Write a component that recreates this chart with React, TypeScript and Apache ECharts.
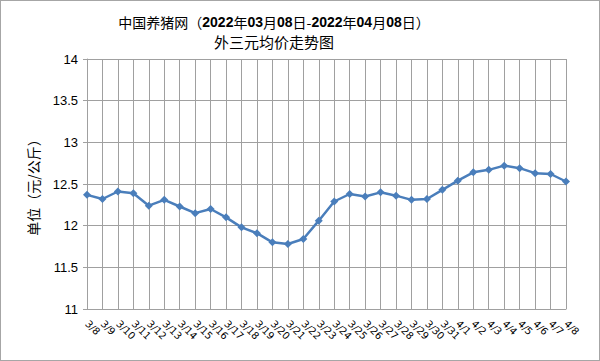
import React, { useEffect, useRef } from "react";
import * as echarts from "echarts";

const categories = [
  "3/8", "3/9", "3/10", "3/11", "3/12", "3/13", "3/14", "3/15", "3/16", "3/17",
  "3/18", "3/19", "3/20", "3/21", "3/22", "3/23", "3/24", "3/25", "3/26", "3/27",
  "3/28", "3/29", "3/30", "3/31", "4/1", "4/2", "4/3", "4/4", "4/5", "4/6", "4/7", "4/8",
];
const prices = [
  12.37, 12.32, 12.41, 12.39, 12.24, 12.31, 12.23, 12.15, 12.2, 12.1,
  11.98, 11.91, 11.8, 11.78, 11.84, 12.06, 12.29, 12.38, 12.35, 12.4,
  12.36, 12.31, 12.32, 12.43, 12.54, 12.64, 12.67, 12.72, 12.69, 12.63, 12.62, 12.53,
];
const titleLine1 = ["中国养猪网（", "2022", "年", "03", "月", "08", "日-", "2022", "年", "04", "月", "08", "日）"];
const titleLine2 = "外三元均价走势图";
const yAxisName = "单位（元/公斤）";

export default function App() {
  const ref = useRef<HTMLDivElement>(null);
  useEffect(() => {
    if (!ref.current) return;
    const chart = echarts.init(ref.current, null, { renderer: "svg" });
    const cjk = '"Noto Sans CJK SC", sans-serif';
    const richText = titleLine1
      .map((s) => (/^\d+$/.test(s) ? `{b|${s}}` : `{n|${s}}`))
      .join("");
    chart.setOption({
      animation: false,
      backgroundColor: "#ffffff",
      grid: { left: 86, right: 33, top: 58, bottom: 51 },
      graphic: [
        {
          type: "text",
          x: 273,
          y: 21,
          style: {
            text: richText,
            align: "center",
            verticalAlign: "middle",
            rich: {
              n: { fontFamily: cjk, fontSize: 14, fill: "#000" },
              b: { fontFamily: '"Liberation Sans", sans-serif', fontWeight: "bold", fontSize: 14, fill: "#000" },
            },
          },
        },
        {
          type: "text",
          x: 273,
          y: 40,
          style: {
            text: titleLine2,
            align: "center",
            verticalAlign: "middle",
            fontFamily: cjk,
            fontSize: 15,
            fill: "#000",
          },
        },
      ],
      xAxis: {
        type: "category",
        data: categories,
        boundaryGap: false,
        axisLine: { lineStyle: { color: "#a0a0a0", width: 1 } },
        axisTick: { show: false },
        splitLine: { show: true, lineStyle: { color: "#a0a0a0", width: 1 } },
        axisLabel: {
          interval: 0,
          rotate: -45,
          fontSize: 10,
          fontFamily: '"DejaVu Sans", sans-serif',
          color: "#000",
          margin: 13,
        },
      },
      yAxis: {
        type: "value",
        min: 11,
        max: 14,
        interval: 0.5,
        name: yAxisName,
        nameLocation: "middle",
        nameRotate: 90,
        nameGap: 47,
        nameTextStyle: { fontFamily: cjk, fontSize: 14, color: "#000" },
        axisLine: { show: true, lineStyle: { color: "#a0a0a0", width: 1 } },
        axisTick: { show: true, length: 4, lineStyle: { color: "#a0a0a0" } },
        splitLine: { show: true, lineStyle: { color: "#a0a0a0", width: 1 } },
        axisLabel: {
          fontSize: 13,
          fontFamily: '"Liberation Sans", sans-serif',
          color: "#000",
          margin: 9,
        },
      },
      series: [
        {
          type: "line",
          data: prices,
          symbol: "diamond",
          symbolSize: 8,
          lineStyle: { color: "#4a7ebb", width: 2.5 },
          itemStyle: { color: "#4a7ebb" },
        },
      ],
    });
    return () => chart.dispose();
  }, []);
  return (
    <div
      ref={ref}
      style={{
        position: "absolute",
        left: 0,
        top: 0,
        width: 600,
        height: 361,
        boxSizing: "border-box",
        border: "1px solid #a6a6a6",
      }}
    />
  );
}
